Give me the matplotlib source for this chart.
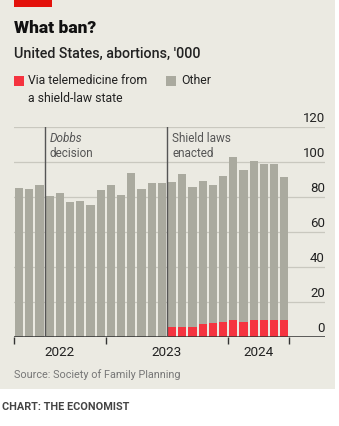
import matplotlib
matplotlib.use("Agg")
import matplotlib.pyplot as plt
from matplotlib.patches import Rectangle
import numpy as np

# Monthly abortions in the US, '000, April 2022 - June 2024
months = [
    "2022-04", "2022-05", "2022-06", "2022-07", "2022-08", "2022-09",
    "2022-10", "2022-11", "2022-12",
    "2023-01", "2023-02", "2023-03", "2023-04", "2023-05", "2023-06",
    "2023-07", "2023-08", "2023-09", "2023-10", "2023-11", "2023-12",
    "2024-01", "2024-02", "2024-03", "2024-04", "2024-05", "2024-06",
]
total = [84.9, 84.3, 87.0, 80.3, 82.4, 76.9, 77.7, 75.2, 83.9,
         86.8, 80.9, 93.8, 84.5, 88.1, 88.1,
         88.3, 93.0, 85.8, 88.9, 86.8, 91.7,
         102.6, 95.1, 100.3, 98.7, 98.7, 91.5]
telemed = [0, 0, 0, 0, 0, 0, 0, 0, 0,
           0, 0, 0, 0, 0, 0,
           5.7, 5.7, 5.9, 7.4, 8.0, 8.5,
           9.9, 8.9, 9.9, 9.9, 10.1, 9.9]
year_labels = ["2022", "2023", "2024"]
y_ticks = [0, 20, 40, 60, 80, 100, 120]

other = [t - r for t, r in zip(total, telemed)]
x = np.arange(len(months))

BG = "#ebeae2"
GREY = "#aaaa9f"
RED = "#f5333f"
TXT = "#222222"

plt.rcParams["font.family"] = ["Roboto", "DejaVu Sans"]

fig = plt.figure(figsize=(3.39, 4.26), dpi=100)
fig.patch.set_facecolor("white")
W, H = 339, 426

# beige panel and red tag
fig.patches.append(Rectangle((0, 1 - 389 / H), 335 / W, 389 / H,
                             transform=fig.transFigure, facecolor=BG,
                             edgecolor="none", zorder=-10))
fig.patches.append(Rectangle((14 / W, 1 - 7 / H), 38 / W, 7 / H,
                             transform=fig.transFigure, facecolor="#e3120b",
                             edgecolor="none", zorder=-5))

ax = fig.add_axes([14 / W, 1 - 337.3 / H, 311 / W, 210.6 / H])
ax.set_facecolor("none")

# red stacked at the bottom, grey on top
ax.bar(x, telemed, width=0.8, color=RED, zorder=2)
ax.bar(x, other, width=0.8, bottom=telemed, color=GREY, zorder=2)

ax.set_xlim(-0.5, 30.0)
ax.set_ylim(0, 120)

for v in y_ticks[1:]:
    ax.axhline(v, color="#c9c8bf", linewidth=0.9, zorder=1)
ax.axhline(0, color="#333333", linewidth=1.1, zorder=3)

for v in y_ticks:
    ax.text(30.0, v + 1.2, str(v), ha="right", va="bottom", fontsize=9.5,
            color=TXT, clip_on=False)

# event lines
for xv in (2.5, 14.5):
    ax.plot([xv, xv], [0, 120], color="#555555", linewidth=1.0, zorder=4)
ax.text(3.0, 113.5, "Dobbs", style="italic", fontsize=8.5, color="#555555",
        va="center", ha="left")
ax.text(3.0, 105, "decision", fontsize=8.5, color="#555555",
        va="center", ha="left")
ax.text(15.0, 113.5, "Shield laws", fontsize=8.5, color="#555555",
        va="center", ha="left")
ax.text(15.0, 105, "enacted", fontsize=8.5, color="#555555",
        va="center", ha="left")

# year ticks at boundaries
bounds = [-0.5, 8.5, 20.5, 26.5]
ax.set_xticks(bounds)
ax.set_xticklabels([])
ax.tick_params(axis="x", length=5, width=1.0, color="#333333", direction="out")
ax.set_yticks([])
for i, lab in enumerate(year_labels):
    ax.text((bounds[i] + bounds[i + 1]) / 2, -5, lab, ha="center", va="top",
            fontsize=9.7, color=TXT)
for s in ax.spines.values():
    s.set_visible(False)

# titles and legend
fig.text(14 / W, 1 - 28 / H, "What ban?", fontsize=12.5, fontweight="black",
         color="#111111", va="center")
fig.text(14 / W, 1 - 54 / H, "United States, abortions, '000", fontsize=10.3,
         fontweight="medium", color=TXT, va="center")
fig.patches.append(Rectangle((14 / W, 1 - 86 / H), 10 / W, 10 / H,
                             transform=fig.transFigure, facecolor=RED))
fig.text(28 / W, 1 - 81 / H, "Via telemedicine from", fontsize=8.8,
         color=TXT, va="center")
fig.text(28 / W, 1 - 98 / H, "a shield-law state", fontsize=8.8,
         color=TXT, va="center")
fig.patches.append(Rectangle((166 / W, 1 - 86 / H), 10 / W, 10 / H,
                             transform=fig.transFigure, facecolor=GREY))
fig.text(181 / W, 1 - 81 / H, "Other", fontsize=8.8, color=TXT, va="center")

fig.text(14 / W, 1 - 375 / H, "Source: Society of Family Planning",
         fontsize=7.8, color="#777777", va="center")
fig.text(2 / W, 1 - 407 / H, "CHART: THE ECONOMIST", fontsize=7.8,
         fontweight="bold", color="#444444", va="center")

fig.savefig("out.png", dpi=100)
